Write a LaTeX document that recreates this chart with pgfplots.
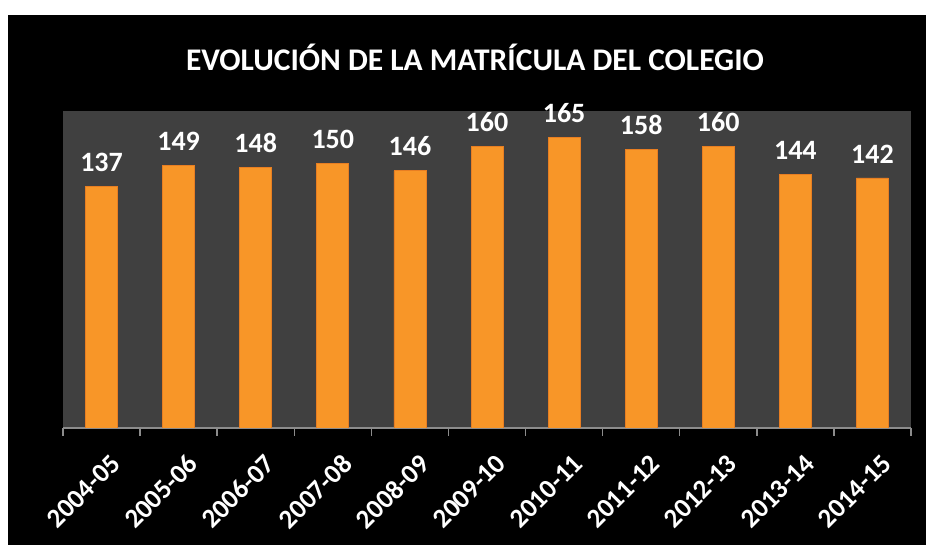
\documentclass[border=0pt]{standalone}
\usepackage{fontspec}
\setmainfont{Carlito}
\usepackage{pgfplots}
\pgfplotsset{compat=1.18}
\definecolor{plotbg}{RGB}{64,64,64}
\definecolor{axgray}{RGB}{140,140,140}
\definecolor{barmid}{RGB}{248,150,40}
\definecolor{bardark}{RGB}{226,118,30}
\definecolor{baredge}{RGB}{232,126,34}
% bottom of the bars a little darker, as in the reference
\pgfdeclareverticalshading{barshade}{100bp}{color(0bp)=(bardark); color(12bp)=(barmid); color(100bp)=(barmid)}

\begin{document}
\begin{tikzpicture}[x=1pt,y=1pt]
\fill[white] (0,0) rectangle (926,545);
\fill[black] (8,0) rectangle (926,530);
\node[white, font=\bfseries\fontsize{31.5}{36}\selectfont] at (475,488) {EVOLUCIÓN DE LA MATRÍCULA DEL COLEGIO};
\begin{axis}[
  at={(63pt,117pt)}, anchor=south west,
  scale only axis, width=848pt, height=317pt,
  xmin=-0.5, xmax=10.5, ymin=0, ymax=180,
  axis background/.style={fill=plotbg},
  axis x line*=bottom, axis y line=none,
  x axis line style={axgray, line width=1.5pt, -},
  xtick={-0.5,0.5,...,10.5}, x tick label as interval,
  xticklabels={2004-05,2005-06,2006-07,2007-08,2008-09,2009-10,2010-11,2011-12,2012-13,2013-14,2014-15},
  ytick=\empty,
  tick style={axgray, line width=1.5pt}, major tick length=8pt, tick align=outside,
  xticklabel style={white, font=\bfseries\fontsize{27}{31}\selectfont, rotate=45, anchor=north east, yshift=-14pt, xshift=-3pt},
  /pgf/number format/assume math mode=true,
  ybar, bar width=32pt,
  nodes near coords,
  nodes near coords style={white, font=\bfseries\fontsize{28}{32}\selectfont, yshift=11pt},
]
\addplot[draw=baredge, line width=0.8pt, shade, shading=barshade] coordinates {
  (0,137) (1,149) (2,148) (3,150) (4,146) (5,160)
  (6,165) (7,158) (8,160) (9,144) (10,142)
};
\end{axis}
\end{tikzpicture}
\end{document}
